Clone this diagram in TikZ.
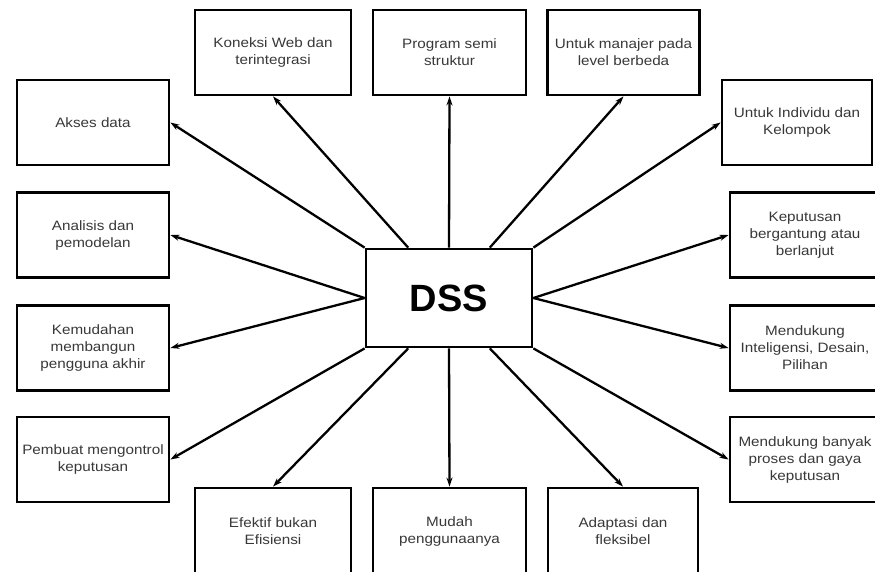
\documentclass[tikz,border=0pt]{standalone}
\usepackage{fontspec}
\setmainfont{Liberation Sans}
\newfontfamily\boxfont[FakeStretch=1.12]{Liberation Sans}
\usepackage{xcolor}
\usepackage{tikz}
\usetikzlibrary{arrows.meta}

\begin{document}
\begin{tikzpicture}[x=1pt,y=-1pt,>={Stealth[length=9pt,width=6pt]},
  box/.style={draw=black, line width=2.8pt, minimum width=152pt, minimum height=85pt,
              align=center, inner sep=0pt, text=black!78,
              font=\boxfont\fontsize{13.6}{17}\selectfont},
  hub/.style={draw=black, line width=2.8pt, minimum width=166pt, minimum height=98pt,
              inner sep=0pt, font=\bfseries\fontsize{38}{40}\selectfont},
  ray/.style={->, line width=2.3pt}]

  \useasboundingbox (0,0) rectangle (875,571);

  % ── centre ──────────────────────────────────────────────────────────
  \node[hub] (dss) at (449,298) {DSS};

  % ── left column ─────────────────────────────────────────────────────
  \node[box] (akses)     at (93,122.5) {Akses data};
  \node[box] (analisis)  at (93,235)   {Analisis dan\\pemodelan};
  \node[box] (kemudahan) at (93,348)   {Kemudahan\\membangun\\pengguna akhir};
  \node[box] (pembuat)   at (93,459.5) {Pembuat mengontrol\\keputusan};

  % ── top row ─────────────────────────────────────────────────────────
  \node[box, minimum width=156pt] (koneksi) at (273,52.5)   {Koneksi Web dan\\terintegrasi};
  \node[box, minimum width=153pt] (program) at (449.5,52.5) {Program semi\\struktur};
  \node[box] (manajer) at (623.5,52.5) {Untuk manajer pada\\level berbeda};

  % ── right column ────────────────────────────────────────────────────
  \node[box, minimum width=150pt] (individu)    at (797,122.5) {Untuk Individu dan\\Kelompok};
  \node[box, minimum width=150pt] (keputusan)   at (805,235)   {Keputusan\\bergantung atau\\berlanjut};
  \node[box, minimum width=150pt] (inteligensi) at (805,348)   {Mendukung\\Inteligensi, Desain,\\Pilihan};
  \node[box, minimum width=150pt] (banyak)      at (805,459.5) {Mendukung banyak\\proses dan gaya\\keputusan};

  % ── bottom row ──────────────────────────────────────────────────────
  \node[box, minimum width=156pt, minimum height=86pt] (efektif)  at (273,531)   {Efektif bukan\\Efisiensi};
  \node[box, minimum width=153pt, minimum height=86pt] (mudah)    at (449.5,531) {Mudah\\penggunaanya};
  \node[box, minimum width=150pt, minimum height=86pt] (adaptasi) at (623,531)   {Adaptasi dan\\fleksibel};

  % ── rays out of DSS ─────────────────────────────────────────────────
  \foreach \from/\to in {north west/akses.east, 129/koneksi.south, north/program.south,
                         51/manajer.south, north east/individu.west,
                         west/analisis.east, west/kemudahan.east,
                         east/keputusan.west, east/inteligensi.west,
                         south west/pembuat.east, 231/efektif.north, south/mudah.north,
                         309/adaptasi.north, south east/banyak.west}
      \draw[ray] (dss.\from) -- (\to);

\end{tikzpicture}
\end{document}
